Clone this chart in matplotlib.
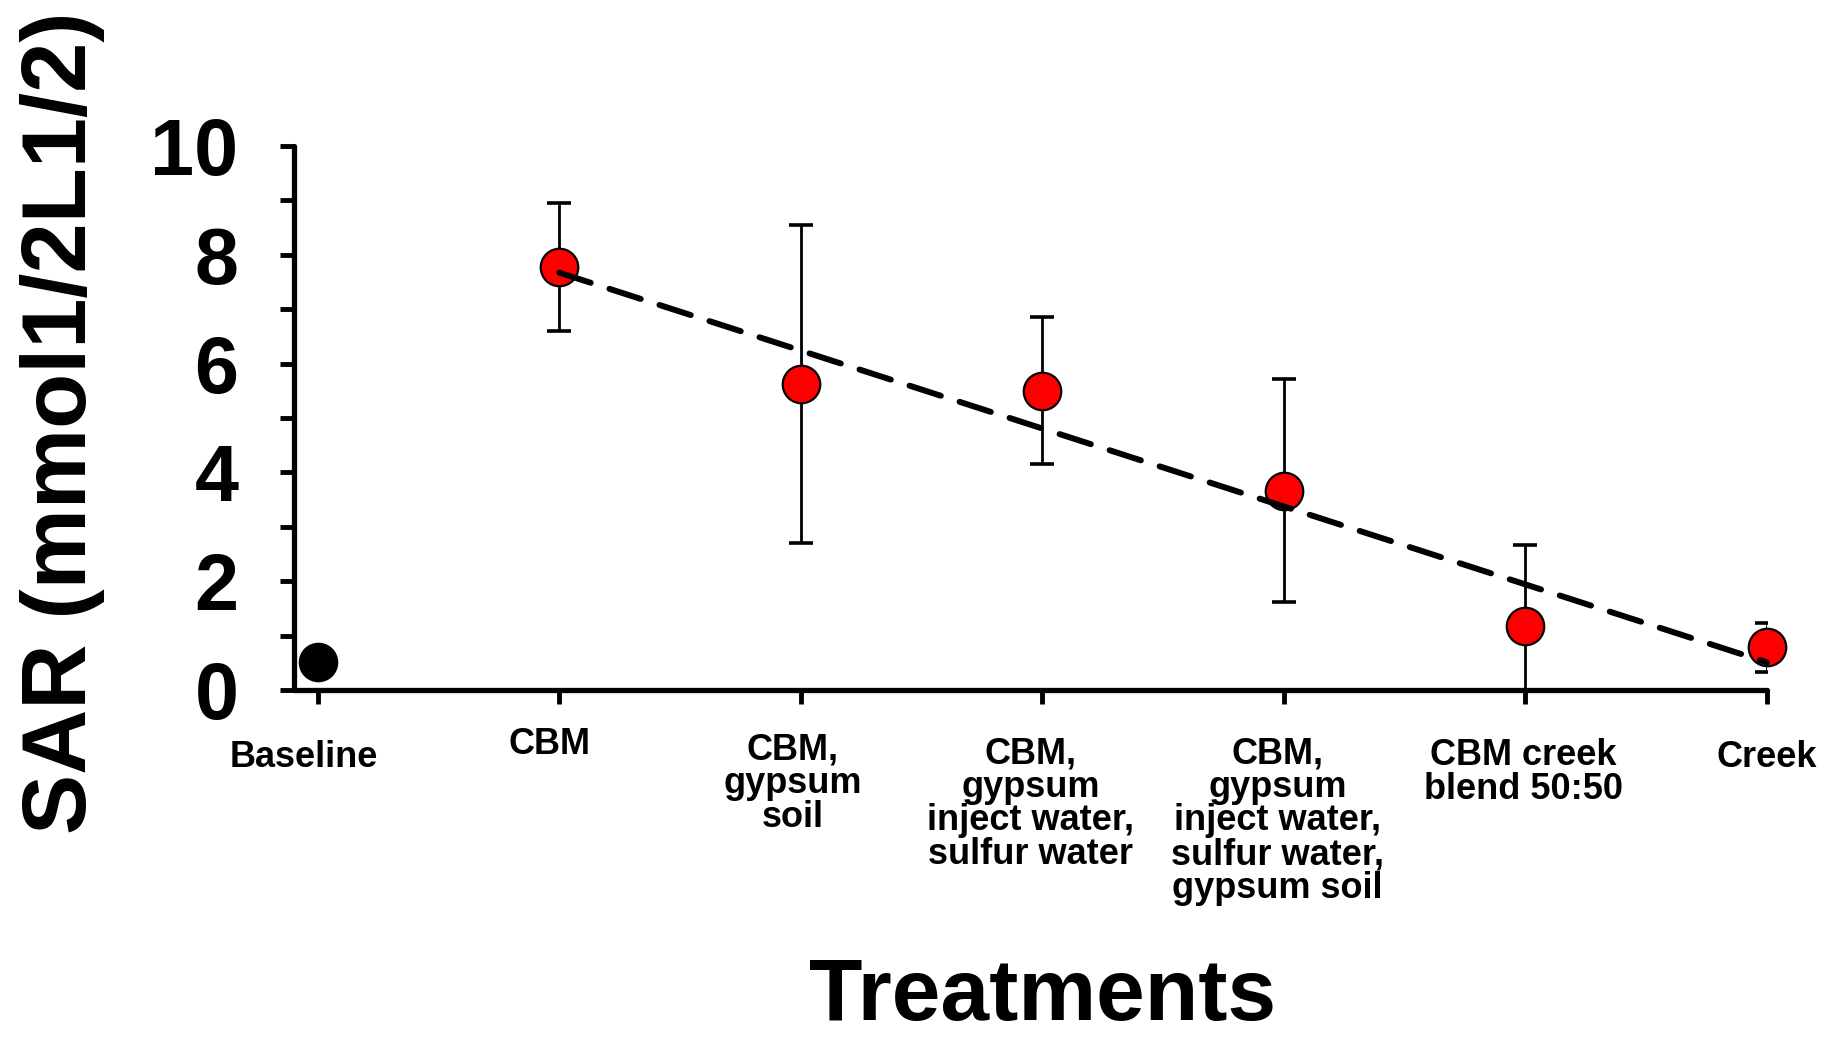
import numpy as np
import matplotlib
matplotlib.use('Agg')
import matplotlib.pyplot as plt
import matplotlib.transforms as mtransforms
from matplotlib.ticker import MultipleLocator

categories = ['Baseline', 'CBM', 'CBM,\ngypsum\nsoil',
              'CBM,\ngypsum\ninject water,\nsulfur water',
              'CBM,\ngypsum\ninject water,\nsulfur water,\ngypsum soil',
              'CBM creek\nblend 50:50', 'Creek']
baseline_sar = [0.51]
treat_sar = [7.78, 5.63, 5.50, 3.66, 1.18, 0.79]
treat_err = [1.18, 2.92, 1.35, 2.05, 1.49, 0.45]

plt.rcParams['font.family'] = ['Liberation Sans', 'DejaVu Sans']
plt.rcParams['font.weight'] = 'bold'

fig = plt.figure(figsize=(18.33, 10.40), dpi=100)
ax = fig.add_axes([0.1604, 0.3365, 0.964 - 0.1604, 0.8596 - 0.3365])

x_all = np.arange(len(categories))
x_base = x_all[:1]
x_treat = x_all[1:]

# baseline point (black, no error bar)
ax.plot(x_base, baseline_sar, 'o', ms=27.5, color='black', mec='black', zorder=3)

# treatments with error bars
ax.errorbar(x_treat, treat_sar, yerr=treat_err, fmt='none', ecolor='black',
            elinewidth=2.0, capsize=8.3, capthick=2.6, zorder=2)
ax.plot(x_treat, treat_sar, 'o', ms=27, color='#ff0000', mec='black', mew=1.6,
        zorder=3, clip_on=False)

# linear trend across treatments
slope, icpt = np.polyfit(x_treat, treat_sar, 1)
trend, = ax.plot(x_treat[[0, -1]], slope * x_treat[[0, -1]] + icpt, color='black',
                 lw=4.3, zorder=4, clip_on=False, dash_capstyle='round')
trend.set_dashes([5.5, 3.3])

ax.set_xlim(-0.099, 6)
ax.set_ylim(0, 10)
ax.set_xticks(x_all)
ax.set_xticklabels(categories, fontsize=26, fontweight='bold', linespacing=0.95,
                   va='top', ha='center')
ax.yaxis.set_major_locator(MultipleLocator(2))
ax.yaxis.set_minor_locator(MultipleLocator(1))
for lab in ax.get_yticklabels():
    lab.set_fontsize(57)
    lab.set_fontweight('bold')

ax.tick_params(axis='x', direction='out', length=10, width=3.5, pad=24)
ax.tick_params(axis='y', which='both', direction='out', length=10, width=3.5, pad=30)

# labels in the original sit a little off their ticks
nudge_x = [-10, -7, -6, -8.5, -4.5, -1.5, -0.5]
nudge_y = [-1.7, 7.6, 3.4, 0.8, 0.8, -0.8, -1.7]
for lab, dx, dy in zip(ax.get_xticklabels(), nudge_x, nudge_y):
    lab.set_transform(lab.get_transform() +
                      mtransforms.ScaledTranslation(dx / 72, dy / 72, fig.dpi_scale_trans))

for side in ['top', 'right']:
    ax.spines[side].set_visible(False)
for side in ['left', 'bottom']:
    ax.spines[side].set_linewidth(3.8)
    ax.spines[side].set_capstyle('round')

ax.set_ylabel('SAR (mmol1/2L1/2)', fontsize=65, fontweight='bold', va='center')
ax.yaxis.set_label_coords(-0.1575, 0.491)
ax.set_xlabel('Treatments', fontsize=63, fontweight='bold', va='baseline')
ax.xaxis.set_label_coords(0.508, -0.607)

fig.savefig('out.png', dpi=100)
